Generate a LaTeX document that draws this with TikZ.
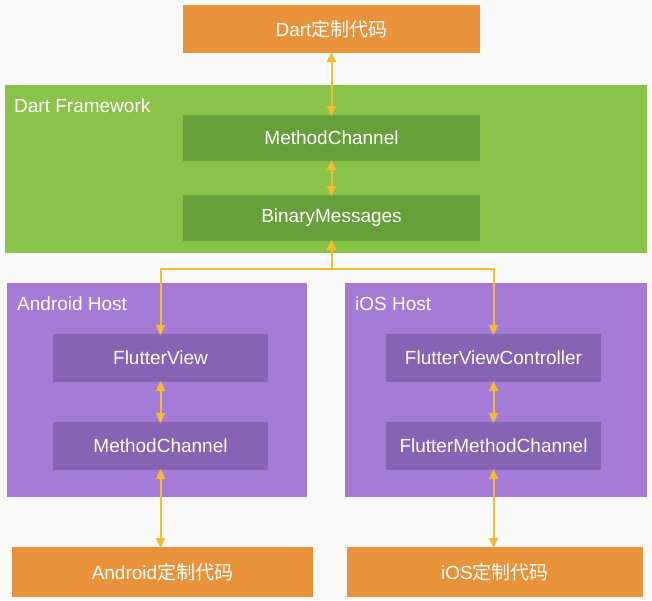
\documentclass[tikz,border=0pt]{standalone}
\usepackage{fontspec}
\setmainfont{Liberation Sans}
\newfontfamily\cjk{Noto Sans CJK SC}
\usetikzlibrary{arrows.meta}
\definecolor{bg}{HTML}{F9F9F9}
\definecolor{orng}{HTML}{E8923A}
\definecolor{grn}{HTML}{8BC34A}
\definecolor{dgrn}{HTML}{67A03A}
\definecolor{purp}{HTML}{A67BD7}
\definecolor{dpurp}{HTML}{8763B4}
\definecolor{yel}{HTML}{F3BD2D}
\tikzset{
  box/.style={rectangle, inner sep=0pt, outer sep=0pt, text=white, font=\fontsize{19}{21}\selectfont},
  codebox/.style={box, fill=orng},
  gbox/.style={box, fill=dgrn},
  pbox/.style={box, fill=dpurp},
  frame/.style={rectangle, inner sep=0pt, outer sep=0pt},
  lbl/.style={anchor=west, inner sep=0pt, text=white, font=\fontsize{19}{21}\selectfont},
  link/.style={draw=yel, line width=2pt, {Triangle[length=10pt,width=9pt]}-{Triangle[length=10pt,width=9pt]}}
}
\begin{document}
\begin{tikzpicture}[x=1pt,y=-1pt]
\fill[bg] (0,0) rectangle (652,600);
\useasboundingbox (0,0) rectangle (652,600);
% frames
\node[frame, fill=grn, minimum width=642, minimum height=168] (dfw) at (326,169) {};
\node[frame, fill=purp, minimum width=300, minimum height=214] (ah) at (157,390) {};
\node[frame, fill=purp, minimum width=302, minimum height=214] (ih) at (496,390) {};
\node[lbl] (dfwl) at (14,106) {Dart Framework};
\node[lbl] (ahl) at (17,304) {Android Host};
\node[lbl] (ihl) at (355,304) {iOS Host};
% boxes
\node[codebox, minimum width=297, minimum height=48] (dc) at (331.5,29) {Dart{\cjk 定制代码}};
\node[gbox, minimum width=297, minimum height=46] (mc) at (331.5,138) {MethodChannel};
\node[gbox, minimum width=297, minimum height=46] (bm) at (331.5,218) {BinaryMessages};
\node[pbox, minimum width=215, minimum height=48] (fv) at (160.5,358) {FlutterView};
\node[pbox, minimum width=215, minimum height=48] (amc) at (160.5,446) {MethodChannel};
\node[pbox, minimum width=215, minimum height=48] (fvc) at (493.5,358) {FlutterViewController};
\node[pbox, minimum width=215, minimum height=48] (fmc) at (493.5,446) {FlutterMethodChannel};
\node[codebox, minimum width=301, minimum height=50] (ac) at (162.5,572) {Android{\cjk 定制代码}};
\node[codebox, minimum width=296, minimum height=50] (ic) at (495,572) {iOS{\cjk 定制代码}};
% links
\coordinate (jn) at (331.5,269);
\draw[link] ([yshift=1pt]dc.south) -- ([yshift=-1pt]mc.north);
\draw[link] ([yshift=1pt]mc.south) -- ([yshift=-1pt]bm.north);
\draw[link] ([yshift=1pt]bm.south) |- (jn) -| ([yshift=-1pt]fv.north);
\draw[link] ([yshift=1pt]bm.south) |- (jn) -| ([yshift=-1pt]fvc.north);
\draw[link] ([yshift=1pt]fv.south) -- ([yshift=-1pt]amc.north);
\draw[link] ([yshift=1pt]fvc.south) -- ([yshift=-1pt]fmc.north);
\draw[link] ([yshift=1pt]amc.south) -- ([yshift=-1pt]amc.south |- ac.north);
\draw[link] ([yshift=1pt]fmc.south) -- ([yshift=-1pt]fmc.south |- ic.north);
\end{tikzpicture}
\end{document}
